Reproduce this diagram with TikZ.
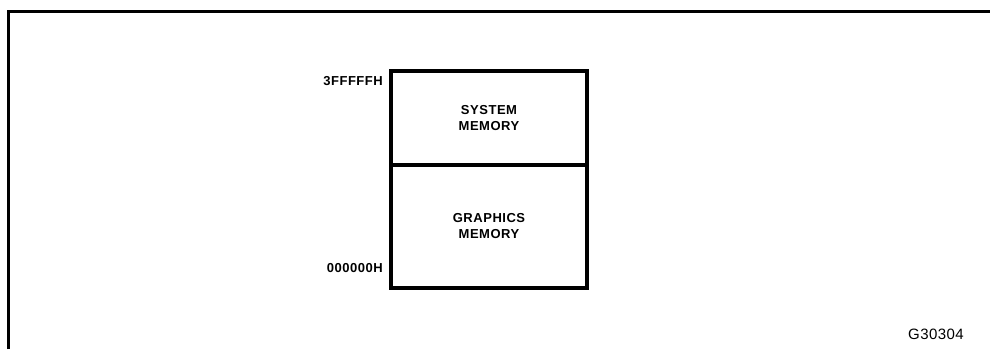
\documentclass[tikz,border=0pt]{standalone}
\usepackage{fontspec}
\setmainfont{Liberation Sans}
\newfontfamily\mapfont[LetterSpace=4]{Liberation Sans}
\newfontfamily\figfont[LetterSpace=3]{Liberation Sans}
\usetikzlibrary{positioning}

\tikzset{
  membox/.style={draw=black, line width=3.4pt, minimum width=196pt, inner sep=0pt, outer sep=0pt,
    align=center, font=\fontsize{13}{16}\mapfont\bfseries},
  addr/.style={inner sep=0pt, anchor=east, font=\fontsize{13}{15}\mapfont\bfseries},
}

\begin{document}
\begin{tikzpicture}[x=1pt,y=1pt]
\useasboundingbox (0,0) rectangle (990,349);
% frame
\draw[line width=2.8pt] (8.5,0) -- (8.5,337.5) -- (990,337.5);
% memory map
\node[membox, minimum height=94pt] (sysmem) at (489,231) {SYSTEM\\MEMORY};
\node[membox, minimum height=123pt, below=0pt of sysmem] (gfxmem) {GRAPHICS\\MEMORY};
\node[addr, left=8pt of sysmem.north west, yshift=-10pt] (top) {3FFFFFH};
\node[addr, left=8pt of gfxmem.south west, yshift=20pt] (bot) {000000H};
\node[inner sep=0pt, font=\fontsize{15}{17}\figfont] (fig) at (936,15) {G30304};
\end{tikzpicture}
\end{document}
